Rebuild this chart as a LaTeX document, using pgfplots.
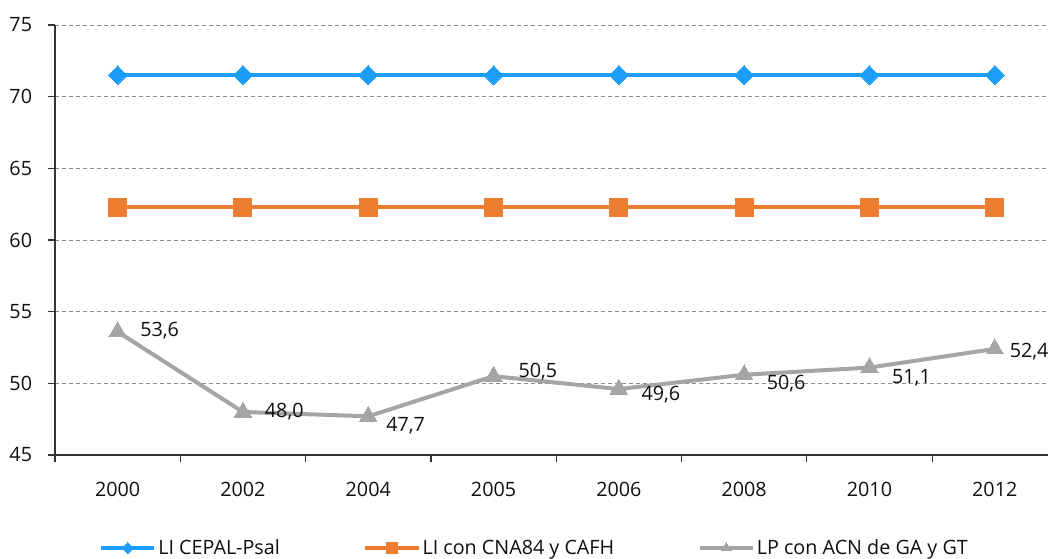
\documentclass[border=0pt]{standalone}
\usepackage{pgfplots}
\pgfplotsset{compat=1.18}
\usepackage{fontspec}
\setmainfont{Open Sans}
\definecolor{cblue}{RGB}{28,157,250}
\definecolor{corange}{RGB}{237,125,49}
\definecolor{cgray}{RGB}{165,165,165}
\definecolor{ctext}{RGB}{15,15,15}
\pgfplotstableread{
x y lab dx dy
0 53.6 53,6 17 0.75
1 48.0 48,0 16.5 0
2 47.7 47,7 13.5 -6.75
3 50.5 50,5 18.75 3.75
4 49.6 49,6 17 -4.5
5 50.6 50,6 17 -6.75
6 51.1 51,1 17 -7.5
7 52.4 52,4 11.25 -2.25
}\lpdata
\newcommand{\fs}{\fontsize{14.8}{17}\selectfont}
\begin{document}
\begin{tikzpicture}
\begin{axis}[
  at={(0,0)}, anchor=south west,
  scale only axis, width=744.75pt, height=322.5pt,
  xmin=-0.5, xmax=7.425, ymin=45, ymax=75,
  axis lines*=left,
  axis line style={color=black!80, line width=0.9pt},
  xtick={0,...,7},
  xticklabels={2000,2002,2004,2005,2006,2008,2010,2012},
  minor xtick={-0.5,0.5,...,6.5},
  ytick={45,50,...,75},
  minor ytick={45,50,...,75},
  major tick length=0pt,
  minor tick length=5.25pt,
  tick align=outside,
  minor tick style={color=black!80, line width=0.9pt},
  ymajorgrids,
  major grid style={color=black!45, line width=0.75pt, dash pattern=on 3pt off 2.25pt},
  /pgf/number format/assume math mode=true,
  tick label style={font=\fs, text=ctext},
  yticklabel style={inner sep=0pt, anchor=east, xshift=-17pt},
  xticklabel style={inner sep=0pt, anchor=north, yshift=-20pt},
  legend style={at={(0.0443,-0.2163)}, anchor=west, draw=none, fill=none,
    inner sep=0pt, outer sep=0pt, font=\fs, text=ctext,
    nodes={inner xsep=1.5pt},
    /tikz/every odd column/.append style={column sep=0pt},
    /tikz/every even column/.append style={column sep=61pt}},
  legend columns=3,
  legend cell align=left,
  legend image code/.code={%
    \draw[mark repeat=2,mark phase=2,#1,every mark/.append style={scale=0.58}] plot coordinates {(0pt,0pt)(20pt,0pt)(40pt,0pt)};},
  clip=false,
]
\addplot[color=cblue, line width=3pt, mark=square*, mark size=5pt,
  mark options={rotate=45, line width=0pt}] coordinates {
  (0,71.5)(1,71.5)(2,71.5)(3,71.5)(4,71.5)(5,71.5)(6,71.5)(7,71.5)};
\addlegendentry{LI CEPAL-Psal}
\addplot[color=corange, line width=3pt, mark=square*, mark size=6.75pt,
  mark options={line width=0pt}] coordinates {
  (0,62.3)(1,62.3)(2,62.3)(3,62.3)(4,62.3)(5,62.3)(6,62.3)(7,62.3)};
\addlegendentry{LI con CNA84 y CAFH}
\addplot[color=cgray, line width=3pt, mark=triangle*, mark size=7.5pt,
  mark options={line width=0pt},
  point meta=explicit symbolic,
  visualization depends on={\thisrow{dx} \as \dx},
  visualization depends on={\thisrow{dy} \as \dy},
  nodes near coords,
  nodes near coords style={anchor=west, inner sep=0pt, xshift=\dx pt, yshift=\dy pt, font=\fs, text=ctext},
] table[x=x, y=y, meta=lab] {\lpdata};
\addlegendentry{LP con ACN de GA y GT}
\end{axis}
\pgfresetboundingbox
\path (-41.25pt,-77.25pt) rectangle (744.75pt,341.25pt);
\end{tikzpicture}
\end{document}
